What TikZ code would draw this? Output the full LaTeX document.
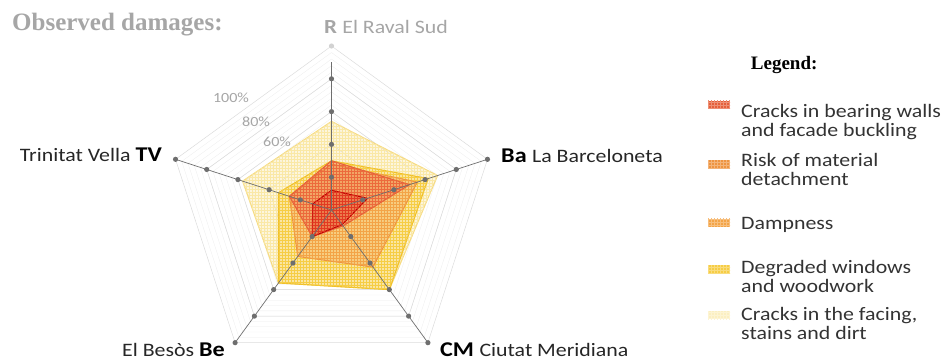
\documentclass[tikz,border=0pt]{standalone}
\usepackage{fontspec}
\usepackage{tikz}
\usetikzlibrary{patterns}
\newfontfamily\lblfont[FakeStretch=1.15]{Carlito}
\newfontfamily\ttlfont{Liberation Serif}

\definecolor{axisgray}{HTML}{6E6E6E}
\definecolor{textgray}{HTML}{A6A6A6}
\definecolor{wallline}{HTML}{C00000}
\definecolor{wallfill}{HTML}{E23A22}
\definecolor{riskline}{HTML}{E5603A}
\definecolor{riskfill}{HTML}{EC6A3C}
\definecolor{dampline}{HTML}{EE9440}
\definecolor{dampfill}{HTML}{F3A447}
\definecolor{windowline}{HTML}{F0C028}
\definecolor{windowfill}{HTML}{F6CD45}
\definecolor{facingline}{HTML}{F6DB82}
\definecolor{facingfill}{HTML}{FAE8A6}

\begin{document}
\begin{tikzpicture}[x=1pt,y=1pt]
		% styles for the radar chart
		\tikzset{
			gridline/.style={draw=gray!28, line width=0.5pt},
			minorgrid/.style={draw=gray!15, line width=0.3pt},
			axisline/.style={draw=axisgray, line width=0.7pt},
			damage/.style 2 args={draw=#1, fill=#2, fill opacity=0.38, line width=1.1pt, line join=round,
				postaction={pattern=grid, pattern color=#2}},
			swatch/.style={minimum width=22pt, minimum height=8pt, inner sep=0pt, fill=#1,
				postaction={pattern=grid, pattern color=#1!70!white}},
			legtext/.style={anchor=base west, inner sep=0pt, align=left, text=black!80,
				font=\lblfont\fontsize{19}{19}\selectfont},
			pct/.style={text=textgray, inner sep=0pt, font=\lblfont\fontsize{14}{14}\selectfont}
		}
		\useasboundingbox (0,0) rectangle (949,360);
		
		% center and radius of the chart
		\def\rad{164}
		
		\begin{scope}[shift={(331.5,150)}]
			% minor grid
			\foreach \lv in {0.04,0.08,...,1.0}
				\draw[minorgrid] (90:{\lv*\rad}) -- (18:{\lv*\rad}) -- (-54:{\lv*\rad}) -- (-126:{\lv*\rad}) -- (162:{\lv*\rad}) -- cycle;
			% major grid
			\foreach \lv in {0.2,0.4,0.6,0.8,1.0}
				\draw[gridline] (90:{\lv*\rad}) -- (18:{\lv*\rad}) -- (-54:{\lv*\rad}) -- (-126:{\lv*\rad}) -- (162:{\lv*\rad}) -- cycle;
			
			% damage series: R / Ba / CM / Be / TV
			\foreach \vr/\vb/\vc/\ve/\vt/\lc/\fc in {
				0.54/0.68/0.60/0.55/0.57/facingline/facingfill,
				0.30/0.62/0.60/0.55/0.34/windowline/windowfill,
				0.28/0.55/0.43/0.35/0.27/dampline/dampfill,
				0.30/0.50/0.12/0.20/0.27/riskline/riskfill,
				0.12/0.23/0.11/0.20/0.12/wallline/wallfill}
				\draw[damage={\lc}{\fc}] (90:{\vr*\rad}) -- (18:{\vb*\rad}) -- (-54:{\vc*\rad}) -- (-126:{\ve*\rad}) -- (162:{\vt*\rad}) -- cycle;
			
			% axes with dots
			\draw[axisline] (0,0) -- (90:{0.9*\rad});
			\foreach \ang in {18,-54,-126,162}
				\draw[axisline] (0,0) -- (\ang:\rad);
			\foreach \ang in {90,18,-54,-126,162}
				\foreach \lv in {0.2,0.4,0.6,0.8}
					\fill[axisgray] (\ang:{\lv*\rad}) circle (2.6);
			\foreach \ang in {18,-54,-126,162}
				\fill[axisgray] (\ang:\rad) circle (2.6);
			\fill[gray!35] (90:\rad) circle (2.6);
		\end{scope}
		
		% scale labels
		\node[pct] (p100) at (231,262) {100\%};
		\node[pct] (p80) at (256,238) {80\%};
		\node[pct] (p60) at (277,218) {60\%};
		
		% district labels
		\node[anchor=base west, inner sep=0pt, text=textgray] (lr) at (324,327)
			{\lblfont\fontsize{20}{20}\selectfont\bfseries R \fontsize{19}{19}\selectfont\mdseries El Raval Sud};
		\node[anchor=base west, inner sep=0pt, text=black!85] (lba) at (501,197.3)
			{\lblfont\fontsize{21}{21}\selectfont\bfseries\color{black} Ba \fontsize{19}{19}\selectfont\mdseries\color{black!85} La Barceloneta};
		\node[anchor=base east, inner sep=0pt, text=black!85] (ltv) at (162,198.3)
			{\lblfont\fontsize{19}{19}\selectfont Trinitat Vella \fontsize{21}{21}\selectfont\bfseries\color{black} TV};
		\node[anchor=base east, inner sep=0pt, text=black!85] (lbe) at (225,4)
			{\lblfont\fontsize{19}{19}\selectfont El Besòs \fontsize{21}{21}\selectfont\bfseries\color{black} Be};
		\node[anchor=base west, inner sep=0pt, text=black!85] (lcm) at (440,4)
			{\lblfont\fontsize{21}{21}\selectfont\bfseries\color{black} CM \fontsize{19}{19}\selectfont\mdseries\color{black!85} Ciutat Meridiana};
		
		% title
		\node[anchor=base west, inner sep=0pt, text=textgray] (title) at (12,329.3)
			{\ttlfont\fontsize{25}{25}\selectfont\bfseries Observed damages:};
		
		% legend (base = last line)
		\node[anchor=base west, inner sep=0pt] (legtitle) at (750.7,290.7)
			{\ttlfont\fontsize{19}{19}\selectfont\bfseries Legend:};
		\node[swatch=riskline] (sw1) at (719,255.5) {};
		\node[swatch=dampline] (sw2) at (719,196) {};
		\node[swatch=dampfill] (sw3) at (719,137.5) {};
		\node[swatch=windowfill] (sw4) at (719,91) {};
		\node[swatch=facingfill!70!white] (sw5) at (719,45) {};
		\node[legtext] (leg1) at (741,223.3) {Cracks in bearing walls\\and facade buckling};
		\node[legtext] (leg2) at (741,174.3) {Risk of material\\detachment};
		\node[legtext] (leg3) at (741,131) {Dampness};
		\node[legtext] (leg4) at (741,67.7) {Degraded windows\\and woodwork};
		\node[legtext] (leg5) at (741,21) {Cracks in the facing,\\stains and dirt};
	\end{tikzpicture}
\end{document}
